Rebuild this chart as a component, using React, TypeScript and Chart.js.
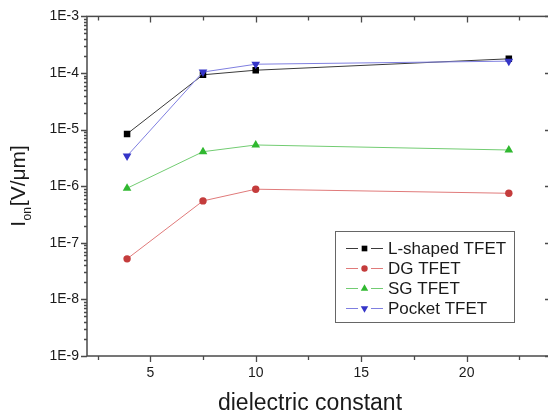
import React, { useEffect, useRef } from "react";
import { Chart, registerables } from "chart.js";

Chart.register(...registerables);

// ---- data ----
const dielectric = [3.9, 7.5, 10, 22];
const lShapedTfet = [8.4e-6, 9.3e-5, 1.12e-4, 1.78e-4];
const dgTfet = [5.2e-8, 5.5e-7, 8.85e-7, 7.5e-7];
const sgTfet = [9.2e-7, 4.07e-6, 5.35e-6, 4.36e-6];
const pocketTfet = [3.42e-6, 1.04e-4, 1.43e-4, 1.62e-4];
const seriesNames = ["L-shaped TFET", "DG TFET", "SG TFET", "Pocket TFET"];
const xTicks = [5, 10, 15, 20];
const xMinorTicks = [2.5, 7.5, 12.5, 17.5, 22.5];
const yTicks = [1e-9, 1e-8, 1e-7, 1e-6, 1e-5, 1e-4, 1e-3];
const yTickLabels = ["1E-9", "1E-8", "1E-7", "1E-6", "1E-5", "1E-4", "1E-3"];
const xTitle = "dielectric constant";

const FONT = '"Liberation Sans", Arial, sans-serif';
const TEXT = "#1a1a1a";
const AXIS = "#4a4a4a";

function pts(ys: number[]) {
  return dielectric.map((x, i) => ({ x, y: ys[i] }));
}

function drawMarker(ctx: CanvasRenderingContext2D, style: string, rot: number, x: number, y: number, color: string, r: number) {
  ctx.save();
  ctx.fillStyle = color;
  ctx.beginPath();
  if (style === "rect") {
    const s = r * Math.SQRT1_2;
    ctx.rect(x - s, y - s, 2 * s, 2 * s);
  } else if (style === "circle") {
    ctx.arc(x, y, r, 0, Math.PI * 2);
  } else {
    ctx.translate(x, y);
    ctx.rotate((rot * Math.PI) / 180);
    ctx.moveTo(0, -r);
    ctx.lineTo(r * Math.sin(Math.PI / 3), r * 0.5);
    ctx.lineTo(-r * Math.sin(Math.PI / 3), r * 0.5);
    ctx.closePath();
  }
  ctx.fill();
  ctx.restore();
}

const framePlugin = {
  id: "frame",
  afterDatasetsDraw(chart: any) {
    const { ctx, chartArea, scales } = chart;
    const { left, right, top, bottom } = chartArea;
    const x = scales.x;
    const y = scales.y;
    ctx.save();
    ctx.strokeStyle = AXIS;
    ctx.lineWidth = 1.5;
    ctx.strokeRect(left, top, right - left, bottom - top);
    ctx.lineWidth = 1.3;
    ctx.beginPath();
    xTicks.forEach((v) => {
      const p = Math.round(x.getPixelForValue(v)) + 0.5;
      ctx.moveTo(p, bottom);
      ctx.lineTo(p, bottom + 6);
      ctx.moveTo(p, top);
      ctx.lineTo(p, top + 6);
    });
    xMinorTicks.forEach((v) => {
      const p = Math.round(x.getPixelForValue(v)) + 0.5;
      ctx.moveTo(p, bottom);
      ctx.lineTo(p, bottom + 4);
      ctx.moveTo(p, top);
      ctx.lineTo(p, top + 4);
    });
    yTicks.forEach((v, i) => {
      const p = Math.round(y.getPixelForValue(v)) + 0.5;
      ctx.moveTo(left - 6, p);
      ctx.lineTo(left, p);
      ctx.moveTo(right - 6, p);
      ctx.lineTo(right, p);
      if (i < yTicks.length - 1) {
        for (let k = 2; k <= 9; k++) {
          const q = Math.round(y.getPixelForValue(v * k)) + 0.5;
          ctx.moveTo(left - 3, q);
          ctx.lineTo(left, q);
          ctx.moveTo(right - 3, q);
          ctx.lineTo(right, q);
        }
      }
    });
    ctx.stroke();
    ctx.restore();
  },
  afterDraw(chart: any) {
    const { ctx, chartArea } = chart;
    const { left, top, bottom } = chartArea;
    ctx.save();
    ctx.fillStyle = TEXT;
    // x title
    ctx.font = `23px ${FONT}`;
    ctx.textAlign = "center";
    ctx.textBaseline = "alphabetic";
    ctx.fillText(xTitle, left + 223, 410);
    // y title with subscript
    const cy = (top + bottom) / 2;
    ctx.translate(25, cy);
    ctx.rotate(-Math.PI / 2);
    ctx.textAlign = "left";
    const mainFont = `21px ${FONT}`;
    const subFont = `12px ${FONT}`;
    ctx.font = mainFont;
    const wI = ctx.measureText("I").width;
    const wRest = ctx.measureText("[V/\u03bcm]").width;
    ctx.font = subFont;
    const wSub = ctx.measureText("on").width + 1;
    const total = wI + wSub + wRest;
    let sx = -total / 2;
    ctx.font = mainFont;
    ctx.fillText("I", sx, 0);
    sx += wI + 0.5;
    ctx.font = subFont;
    ctx.fillText("on", sx, 6);
    sx += wSub;
    ctx.font = mainFont;
    ctx.fillText("[V/\u03bcm]", sx, 0);
    ctx.restore();

    // legend
    ctx.save();
    ctx.strokeStyle = "#666";
    ctx.lineWidth = 1;
    ctx.strokeRect(335.5, 231.5, 179, 91);
    const sizes = [4, 3.2, 4.3, 4.3];
    chart.data.datasets.forEach((ds: any, i: number) => {
      const yy = 248.5 + i * 20;
      ctx.strokeStyle = ds.borderColor;
      ctx.lineWidth = 1;
      ctx.beginPath();
      ctx.moveTo(346, yy);
      ctx.lineTo(358, yy);
      ctx.moveTo(371, yy);
      ctx.lineTo(383, yy);
      ctx.stroke();
      drawMarker(ctx, ds.pointStyle, ds.pointRotation || 0, 364.5, yy, ds.pointBackgroundColor, sizes[i]);
      ctx.fillStyle = TEXT;
      ctx.font = `17px ${FONT}`;
      ctx.textAlign = "left";
      ctx.textBaseline = "middle";
      ctx.fillText(ds.label, 388, yy + 1);
    });
    ctx.restore();
  },
};

export default function App() {
  const ref = useRef<HTMLCanvasElement | null>(null);
  useEffect(() => {
    if (!ref.current) return;
    const chart = new Chart(ref.current, {
      type: "line",
      data: {
        datasets: [
          {
            label: seriesNames[0],
            data: pts(lShapedTfet),
            borderColor: "#3a3a3a",
            borderWidth: 1,
            pointStyle: "rect",
            pointRadius: 4.6,
            pointBackgroundColor: "#000000",
            pointBorderWidth: 0,
            order: 3,
          },
          {
            label: seriesNames[1],
            data: pts(dgTfet),
            borderColor: "#e07a7a",
            borderWidth: 1,
            pointStyle: "circle",
            pointRadius: 3.7,
            pointBackgroundColor: "#c43c3c",
            pointBorderWidth: 0,
            order: 2,
          },
          {
            label: seriesNames[2],
            data: pts(sgTfet),
            borderColor: "#72cc72",
            borderWidth: 1,
            pointStyle: "triangle",
            pointRadius: 5,
            pointBackgroundColor: "#30b830",
            pointBorderWidth: 0,
            order: 1,
          },
          {
            label: seriesNames[3],
            data: pts(pocketTfet),
            borderColor: "#7f7fe0",
            borderWidth: 1,
            pointStyle: "triangle",
            pointRotation: 180,
            pointRadius: 5,
            pointBackgroundColor: "#3535c8",
            pointBorderWidth: 0,
            order: 0,
          },
        ],
      } as any,
      options: {
        animation: false,
        responsive: false,
        devicePixelRatio: 1,
        layout: { padding: { left: 0, right: 9, top: 14, bottom: 0 } },
        plugins: { legend: { display: false }, tooltip: { enabled: false } },
        scales: {
          x: {
            type: "linear",
            min: 2,
            max: 24,
            grid: { display: false, drawTicks: false },
            border: { display: false },
            afterBuildTicks: (s: any) => {
              s.ticks = xTicks.map((v) => ({ value: v }));
            },
            afterFit: (s: any) => {
              s.height = 61;
            },
            ticks: {
              autoSkip: false,
              maxRotation: 0,
              padding: 9,
              color: TEXT,
              font: { family: FONT, size: 14 },
              callback: (v: any) => String(v),
            },
          },
          y: {
            type: "logarithmic",
            min: 1e-9,
            max: 1e-3,
            grid: { display: false, drawTicks: false },
            border: { display: false },
            afterBuildTicks: (s: any) => {
              s.ticks = yTicks.map((v) => ({ value: v }));
            },
            afterFit: (s: any) => {
              s.width = 87;
            },
            ticks: {
              autoSkip: false,
              padding: 8,
              color: TEXT,
              font: { family: FONT, size: 14 },
              callback: (_v: any, i: number) => yTickLabels[i],
            },
          },
        },
      } as any,
      plugins: [framePlugin],
    });
    return () => chart.destroy();
  }, []);
  return (
    <div style={{ position: "fixed", left: 0, top: 0, width: 548, height: 417, overflow: "hidden", background: "#fff" }}>
      <canvas ref={ref} width={560} height={417} style={{ width: 560, height: 417, display: "block" }} />
    </div>
  );
}
